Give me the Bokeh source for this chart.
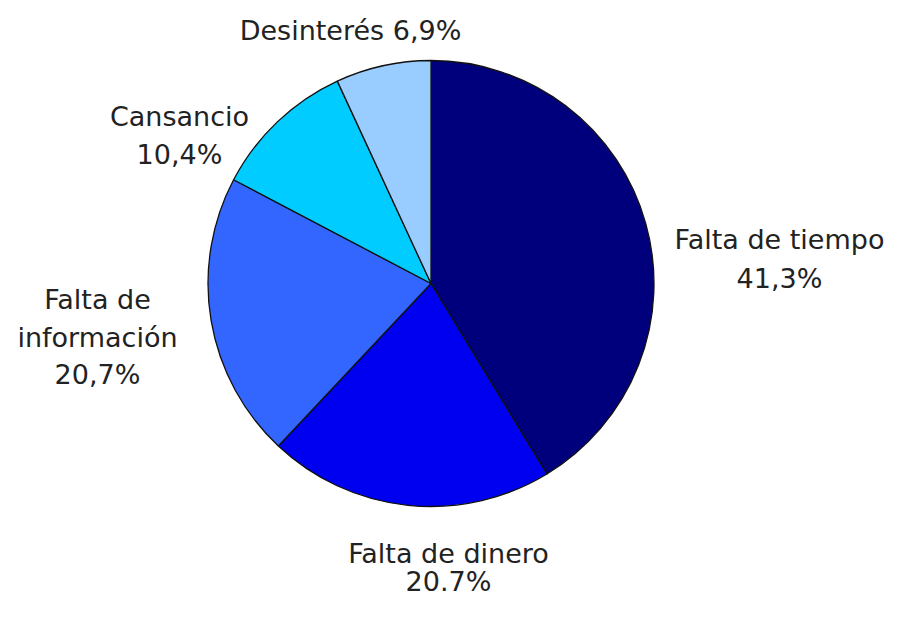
import math
from bokeh.plotting import figure
from bokeh.models import ColumnDataSource, Range1d
from bokeh.core.properties import value
from bokeh.embed import file_html
from bokeh.resources import INLINE

# ---- data ----
categories = ["Falta de tiempo", "Falta de dinero", "Falta de información", "Cansancio", "Desinterés"]
values = [41.3, 20.7, 20.7, 10.4, 6.9]
colors = ["#00007c", "#0000f0", "#3366ff", "#00ccff", "#99ccff"]
label_lines = [
    ["Falta de tiempo", "41,3%"],
    ["Falta de dinero", "20.7%"],
    ["Falta de", "información", "20,7%"],
    ["Cansancio", "10,4%"],
    ["Desinterés 6,9%"],
]

# ---- layout (pixel coords from the top-left of the plot) ----
PW, PH = 886, 601
CX, CY, R = 430.5, 283.0, 223.0
label_anchor = [(779, 239), (448, 553), (97, 299), (179, 116), (350, 30)]
line_step = [39, 28, 37.5, 37.5, 37.5]
FONT = "DejaVu Sans"
FSIZE = "27px"

def ty(y):
    return PH - y

total = sum(values)
starts, ends = [], []
acc = 0.0
for v in values:
    starts.append(math.pi / 2 - acc / total * 2 * math.pi)
    acc += v
    ends.append(math.pi / 2 - acc / total * 2 * math.pi)

src = ColumnDataSource(dict(cat=categories, val=values, color=colors,
                            start=starts, end=ends,
                            x=[CX] * len(values), y=[ty(CY)] * len(values)))

p = figure(width=PW, height=PH, output_backend="svg",
           toolbar_location=None, x_range=Range1d(0, PW),
           y_range=Range1d(0, PH), min_border=0)
p.axis.visible = False
p.grid.visible = False
p.outline_line_color = None
p.background_fill_color = "white"
p.border_fill_color = "white"

p.wedge(x="x", y="y", radius=R, start_angle="start", end_angle="end",
        direction="clock", fill_color="color", line_color="#111111",
        line_width=1.3, source=src)

tx, tyy, tt = [], [], []
for (ax, ay), step, lines in zip(label_anchor, line_step, label_lines):
    for i, line in enumerate(lines):
        tx.append(ax)
        tyy.append(ty(ay + i * step))
        tt.append(line)

p.text(x=tx, y=tyy, text=tt, text_align="center", text_baseline="middle",
       text_font=value(FONT), text_font_size=FSIZE, text_color="#222222")

open("out.html", "w").write(file_html(p, INLINE))
